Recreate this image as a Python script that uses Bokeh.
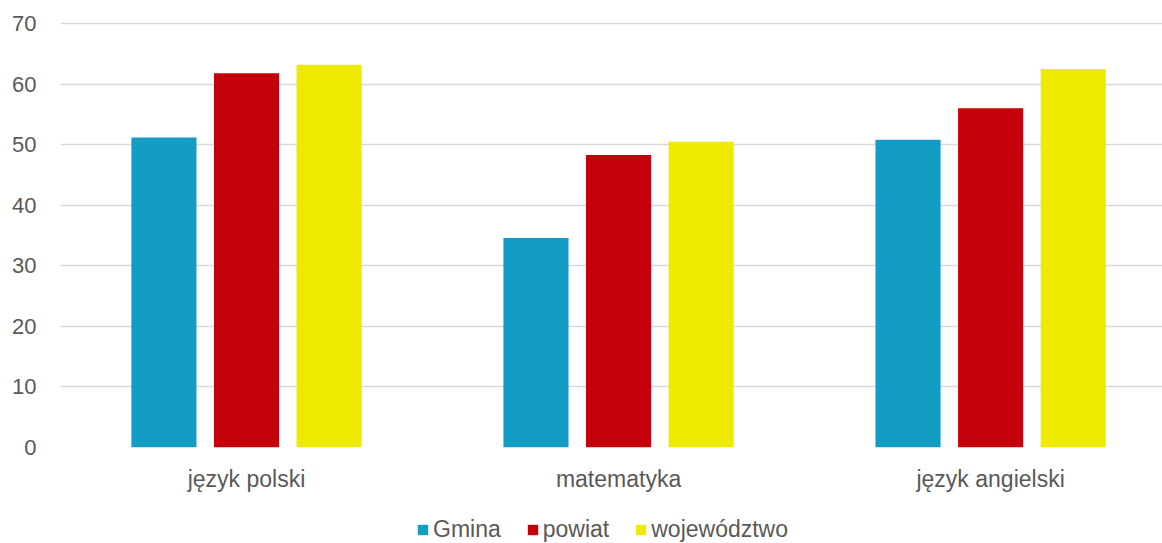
from bokeh.plotting import figure
from bokeh.layouts import column
from bokeh.models import Range1d, FixedTicker, Legend, LegendItem, ColumnDataSource
from bokeh.transform import dodge
from bokeh.embed import file_html
from bokeh.resources import INLINE

categories = ["język polski", "matematyka", "język angielski"]
series_names = ["Gmina", "powiat", "województwo"]
gmina = [51.2, 34.6, 50.8]
powiat = [61.8, 48.3, 56.0]
wojewodztwo = [63.2, 50.5, 62.5]
y_ticks = [0, 10, 20, 30, 40, 50, 60, 70]

colors = ["#139DC5", "#C5000A", "#F0E900"]
FONT = "Liberation Sans"
TEXT = "#595959"

src = ColumnDataSource(dict(x=list(range(len(categories))), gmina=gmina,
                            powiat=powiat, woj=wojewodztwo))

p = figure(width=1162, height=495, x_range=Range1d(-0.5, 2.462),
           y_range=Range1d(0, 70.5), output_backend="svg", toolbar_location=None,
           min_border_left=60, min_border_top=20, min_border_right=0, min_border_bottom=48)
p.outline_line_color = None
p.background_fill_color = "white"

off = 0.222
w = 0.175
p.vbar(x=dodge("x", -off), top="gmina", width=w, source=src, fill_color=colors[0], line_color=None)
p.vbar(x=dodge("x", 0), top="powiat", width=w, source=src, fill_color=colors[1], line_color=None)
p.vbar(x=dodge("x", off), top="woj", width=w, source=src, fill_color=colors[2], line_color=None)

p.xaxis.ticker = FixedTicker(ticks=[0, 1, 2])
p.xaxis.major_label_overrides = {i: c for i, c in enumerate(categories)}
p.yaxis.ticker = FixedTicker(ticks=y_ticks)
for ax in (p.xaxis, p.yaxis):
    ax.axis_line_color = None
    ax.major_tick_line_color = None
    ax.minor_tick_line_color = None
    ax.major_label_text_font = FONT
    ax.major_label_text_color = TEXT
p.xaxis.major_label_text_font_size = "23px"
p.yaxis.major_label_text_font_size = "22px"
p.xaxis.major_label_standoff = 12
p.yaxis.major_label_standoff = 18
p.xgrid.grid_line_color = None
p.ygrid.grid_line_color = "#D9D9D9"
p.ygrid.grid_line_width = 1.5

# legend strip below the chart (proxy renderers lie outside the visible range)
lg = figure(width=1162, height=48, x_range=Range1d(0, 1), y_range=Range1d(0, 1),
            output_backend="svg", toolbar_location=None, min_border=0)
lg.outline_line_color = None
lg.axis.visible = False
lg.grid.visible = False
rs = [lg.vbar(x=[-5], top=[0], width=0.1, fill_color=c, line_color=None) for c in colors]
legend = Legend(items=[LegendItem(label=n, renderers=[r]) for n, r in zip(series_names, rs)],
                orientation="horizontal", location=(356, 0),
                label_text_font=FONT, label_text_font_size="23px", label_text_color=TEXT,
                glyph_width=13, glyph_height=13, label_standoff=4, spacing=25,
                border_line_color=None, background_fill_alpha=0, padding=0, margin=0)
lg.add_layout(legend)

layout = column(p, lg, spacing=0)
open("out.html", "w").write(file_html(layout, INLINE))
